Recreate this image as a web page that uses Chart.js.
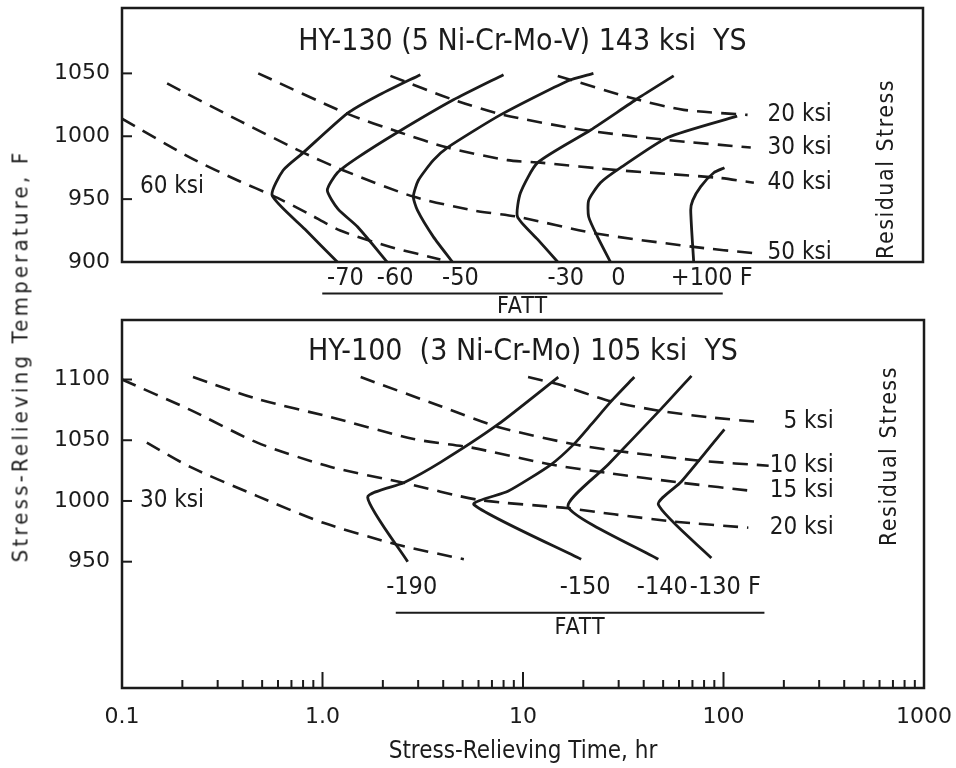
<!DOCTYPE html>
<html>
<head>
<meta charset="utf-8">
<script src="https://cdn.jsdelivr.net/npm/chart.js@4.4.1/dist/chart.umd.min.js"></script>
<style>
  body { margin: 0; background: #fff; }
  #wrap { position: relative; width: 956px; height: 768px; background: #fff; overflow: hidden; }
  canvas { position: absolute; left: 0; }
  #topChart { top: 0; }
  #bottomChart { top: 300px; }
  #yTitle {
    position: absolute; left: 20px; top: 356px;
    transform: translate(-50%, -50%) rotate(-90deg);
    font: 22px 'DejaVu Sans Condensed', 'Liberation Sans Narrow', 'DejaVu Sans', sans-serif;
    letter-spacing: 3.2px; white-space: nowrap; color: #1b1b1b;
  }
</style>
</head>
<body>
<div id="wrap">
  <canvas id="bottomChart" width="956" height="468"></canvas>
  <canvas id="topChart" width="956" height="320"></canvas>
  <div id="yTitle">Stress-Relieving Temperature, F</div>
</div>
<script>
// ---- HY-130 panel (time hr, temperature F) ----
var hy130TempTicks = [900, 950, 1000, 1050];
var hy130FattNames = ['-70', '-60', '-50', '-30', '0', '+100'];
var hy130Fatt_m70 = [[1.19, 900], [0.82, 926], [0.562, 953], [0.638, 973], [0.804, 987], [1.33, 1018], [1.88, 1032], [3.09, 1049]];
var hy130Fatt_m60 = [[2.11, 900], [1.5, 928], [1.2, 942], [1.06, 957], [1.19, 971], [1.5, 983], [2.37, 1003], [4.52, 1029], [8.04, 1049]];
var hy130Fatt_m50 = [[4.47, 900], [3.59, 920], [2.99, 941], [2.85, 952], [3.02, 965], [3.59, 981], [4.22, 991], [7.76, 1017], [16.8, 1044], [22.6, 1050]];
var hy130Fatt_m30 = [[15.0, 900], [11.9, 918], [9.44, 936], [9.77, 955], [11.9, 979], [21.9, 1005], [37.6, 1030], [56.9, 1048]];
var hy130Fatt_0 = [[27.5, 900], [23.7, 920], [21.4, 936], [21.4, 949], [24.5, 963], [30.9, 975], [53.1, 999], [118, 1016]];
var hy130Fatt_p100 = [[71.6, 900], [69.2, 941], [70.8, 949], [77.6, 960], [90.2, 971], [102, 975]];

var hy130StressNames = ['20 ksi', '30 ksi', '40 ksi', '50 ksi', '60 ksi'];
var hy130Stress_20 = [[15.0, 1048], [35.9, 1030], [63.8, 1021], [133, 1017]];
var hy130Stress_30 = [[2.19, 1048], [4.52, 1029], [8.04, 1017], [20.2, 1005], [53.1, 997], [138, 991]];
var hy130Stress_40 = [[0.479, 1050], [1.33, 1018], [2.45, 1003], [4.22, 991], [8.41, 981], [12.3, 979], [29.9, 973], [94.4, 967], [143, 963]];
var hy130Stress_50 = [[0.168, 1042], [0.389, 1012], [0.804, 987], [1.27, 973], [2.85, 952], [5.69, 941], [9.44, 936], [22.6, 923], [71.6, 912], [143, 907]];
var hy130Stress_60 = [[0.1, 1014], [0.219, 983], [0.389, 964], [0.562, 953], [0.841, 939], [1.23, 925], [2.19, 912], [3.89, 902]];

// ---- HY-100 panel ----
var hy100TempTicks = [950, 1000, 1050, 1100];
var hy100FattNames = ['-190', '-150', '-140', '-130'];
var hy100Fatt_m190 = [[2.66, 950], [1.68, 1003], [2.54, 1015], [3.89, 1032], [7.5, 1063], [15.0, 1102]];
var hy100Fatt_m150 = [[19.5, 952], [5.69, 997], [8.41, 1008], [13.8, 1030], [18.0, 1047], [21.9, 1063], [27.5, 1082], [35.9, 1102]];
var hy100Fatt_m140 = [[47.3, 952], [16.8, 995], [26.6, 1030], [49, 1076], [69.2, 1103]];
var hy100Fatt_m130 = [[87, 953], [47.3, 997], [61.7, 1016], [101, 1059]];

var hy100StressNames = ['5 ksi', '10 ksi', '15 ksi', '20 ksi', '30 ksi'];
var hy100Stress_5 = [[10.6, 1102], [15.0, 1096], [27.5, 1082], [49, 1074], [84, 1069], [150, 1065]];
var hy100Stress_10 = [[1.55, 1102], [3.89, 1078], [7.5, 1061], [18.8, 1046], [33.5, 1040], [77.6, 1033], [168, 1029]];
var hy100Stress_15 = [[0.226, 1102], [0.473, 1084], [1.1, 1069], [2.85, 1051], [5.5, 1044], [13.8, 1030], [26.6, 1023], [61.7, 1015], [143, 1008]];
var hy100Stress_20 = [[0.1, 1100], [0.219, 1075], [0.473, 1048], [1.1, 1028], [2.54, 1015], [5.96, 1001], [16.8, 994], [28.5, 989], [56.9, 983], [133, 978]];
var hy100Stress_30 = [[0.133, 1048], [0.219, 1028], [0.473, 1004], [1.01, 982], [2.37, 964], [5.07, 952]];

// ---- shared time axis ----
var timeTicks = [0.1, 1, 10, 100, 1000];
var timeTickLabels = ['0.1', '1.0', '10', '100', '1000'];

var ink = '#1b1b1b';
var condensed = "'DejaVu Sans Condensed', 'Liberation Sans Narrow', 'DejaVu Sans', sans-serif";
var plainFont = "'DejaVu Sans', sans-serif";

Chart.defaults.color = ink;
Chart.defaults.font.family = condensed;

function toPoints(arr) {
    return arr.map(function(p) { return { x: p[0], y: p[1] }; });
}

// box, inside ticks and all the in-plot lettering
var panelDecor = {
    id: 'panelDecor',
    afterDatasetsDraw: function(chart, args, o) {
        var ctx = chart.ctx;
        var a = chart.chartArea;
        var xs = chart.scales.x, ys = chart.scales.y;
        ctx.save();
        ctx.strokeStyle = ink;
        ctx.fillStyle = ink;
        ctx.setLineDash([]);
        ctx.lineWidth = 2.5;
        ctx.strokeRect(a.left, a.top, a.right - a.left, a.bottom - a.top);

        ctx.lineWidth = 2;
        ys.ticks.forEach(function(t) {
            var y = ys.getPixelForValue(t.value);
            ctx.beginPath(); ctx.moveTo(a.left, y); ctx.lineTo(a.left + 10, y); ctx.stroke();
        });

        if (o.timeTicks) {
            for (var d = 0.1; d < 999; d *= 10) {
                for (var m = 1; m < 10; m++) {
                    var x = xs.getPixelForValue(d * m);
                    var len = m === 1 ? 16 : 8;
                    ctx.beginPath(); ctx.moveTo(x, a.bottom); ctx.lineTo(x, a.bottom - len); ctx.stroke();
                }
            }
        }

        // title
        ctx.textBaseline = 'middle';
        ctx.textAlign = 'center';
        ctx.font = '30px ' + condensed;
        ctx.fillText(o.title, (a.left + a.right) / 2, a.top + o.titleDy);

        // residual stress labels
        ctx.font = '24px ' + condensed;
        o.stressNames.forEach(function(name, i) {
            var pts = o.stressSeries[i];
            if (o.leftLabel.index === i) {
                ctx.textAlign = 'left';
                ctx.fillText(name, xs.getPixelForValue(o.leftLabel.at[0]), ys.getPixelForValue(o.leftLabel.at[1]));
            } else {
                var last = pts[pts.length - 1];
                ctx.textAlign = 'right';
                ctx.fillText(name, xs.getPixelForValue(o.labelRightHr), ys.getPixelForValue(last[1]));
            }
        });

        // FATT labels under each solid curve
        ctx.font = '25px ' + condensed;
        var ly = ys.getPixelForValue(o.fattLabelTemp);
        o.fattNames.forEach(function(name, i) {
            var cx = xs.getPixelForValue(o.fattSeries[i][0][0]) + o.fattDx;
            ctx.textAlign = 'center';
            ctx.fillText(name, cx, ly);
            if (i === o.fattNames.length - 1) {
                ctx.textAlign = 'left';
                ctx.fillText(' F', cx + ctx.measureText(name).width / 2, ly);
            }
        });
        var lx0 = xs.getPixelForValue(o.fattLine[0]);
        var lx1 = xs.getPixelForValue(o.fattLine[1]);
        var lineY = ys.getPixelForValue(o.fattLineTemp);
        ctx.lineWidth = 2;
        ctx.beginPath(); ctx.moveTo(lx0, lineY); ctx.lineTo(lx1, lineY); ctx.stroke();
        ctx.textAlign = 'center';
        ctx.font = '23px ' + condensed;
        ctx.letterSpacing = '1px';
        ctx.fillText('FATT', (lx0 + lx1) / 2, ys.getPixelForValue(o.fattTitleTemp));

        // side caption
        ctx.font = '23px ' + condensed;
        ctx.letterSpacing = '1.5px';
        ctx.translate(xs.getPixelForValue(o.residualAt[0]), ys.getPixelForValue(o.residualAt[1]));
        ctx.rotate(-Math.PI / 2);
        ctx.fillText('Residual Stress', 0, 0);
        ctx.restore();
    }
};

function buildPanel(canvasId, fattSeries, stressSeries, tempTicks, yMin, yMax, showTime, padding, decor) {
    var datasets = [];
    fattSeries.forEach(function(s, i) {
        datasets.push({
            label: 'FATT ' + decor.fattNames[i] + ' F',
            data: toPoints(s),
            borderColor: ink, borderWidth: 2.8,
            pointRadius: 0, tension: 0.2, fill: false
        });
    });
    stressSeries.forEach(function(s, i) {
        datasets.push({
            label: decor.stressNames[i],
            data: toPoints(s),
            borderColor: ink, borderWidth: 2.6, borderDash: [15, 9],
            pointRadius: 0, tension: 0.25, fill: false
        });
    });
    decor.fattSeries = fattSeries;
    decor.stressSeries = stressSeries;

    return new Chart(document.getElementById(canvasId), {
        type: 'line',
        data: { datasets: datasets },
        options: {
            responsive: false,
            animation: false,
            layout: { padding: padding },
            plugins: {
                legend: { display: false },
                tooltip: { enabled: false },
                panelDecor: decor
            },
            scales: {
                x: {
                    type: 'logarithmic',
                    min: 0.1, max: 1000,
                    display: showTime,
                    grid: { display: false, drawTicks: false },
                    border: { display: false },
                    afterBuildTicks: function(scale) {
                        scale.ticks = timeTicks.map(function(v) { return { value: v, major: true }; });
                    },
                    afterFit: function(scale) {
                        scale.height = showTime ? 80 : 0;
                        scale.paddingLeft = 0;
                        scale.paddingRight = 0;
                    },
                    ticks: {
                        autoSkip: false, maxRotation: 0, padding: 16,
                        font: { size: 22, family: plainFont },
                        callback: function(v, i) { return timeTickLabels[i]; }
                    },
                    title: {
                        display: true, text: 'Stress-Relieving Time, hr',
                        font: { size: 24, family: condensed },
                        padding: { top: 0, bottom: 2 }
                    }
                },
                y: {
                    type: 'linear',
                    min: yMin, max: yMax,
                    grid: { display: false, drawTicks: false },
                    border: { display: false },
                    afterBuildTicks: function(scale) {
                        scale.ticks = tempTicks.map(function(v) { return { value: v }; });
                    },
                    afterFit: function(scale) {
                        scale.width = 122;
                        scale.paddingTop = 0;
                        scale.paddingBottom = 0;
                    },
                    ticks: {
                        padding: 12,
                        font: { size: 22, family: plainFont },
                        callback: function(v) { return String(v); }
                    }
                }
            }
        },
        plugins: [panelDecor]
    });
}

buildPanel('topChart',
    [hy130Fatt_m70, hy130Fatt_m60, hy130Fatt_m50, hy130Fatt_m30, hy130Fatt_0, hy130Fatt_p100],
    [hy130Stress_20, hy130Stress_30, hy130Stress_40, hy130Stress_50, hy130Stress_60],
    hy130TempTicks, 900, 1102, false,
    { left: 0, right: 33, top: 8, bottom: 58 },
    {
        title: 'HY-130 (5 Ni-Cr-Mo-V) 143 ksi  YS', titleDy: 34,
        fattNames: hy130FattNames, stressNames: hy130StressNames,
        leftLabel: { index: 4, at: [0.123, 960] },
        labelRightHr: 350,
        fattDx: 8, fattLabelTemp: 887, fattLine: [1.0, 100], fattLineTemp: 875, fattTitleTemp: 864,
        residualAt: [665, 974],
        timeTicks: false
    });

buildPanel('bottomChart',
    [hy100Fatt_m190, hy100Fatt_m150, hy100Fatt_m140, hy100Fatt_m130],
    [hy100Stress_5, hy100Stress_10, hy100Stress_15, hy100Stress_20, hy100Stress_30],
    hy100TempTicks, 846, 1149, true,
    { left: 0, right: 32, top: 20, bottom: 0 },
    {
        title: 'HY-100  (3 Ni-Cr-Mo) 105 ksi  YS', titleDy: 32,
        fattNames: hy100FattNames, stressNames: hy100StressNames,
        leftLabel: { index: 4, at: [0.123, 1000] },
        labelRightHr: 355,
        fattDx: 4, fattLabelTemp: 929, fattLine: [2.32, 160], fattLineTemp: 908, fattTitleTemp: 895,
        residualAt: [675, 1037],
        timeTicks: true
    });
</script>
</body>
</html>
